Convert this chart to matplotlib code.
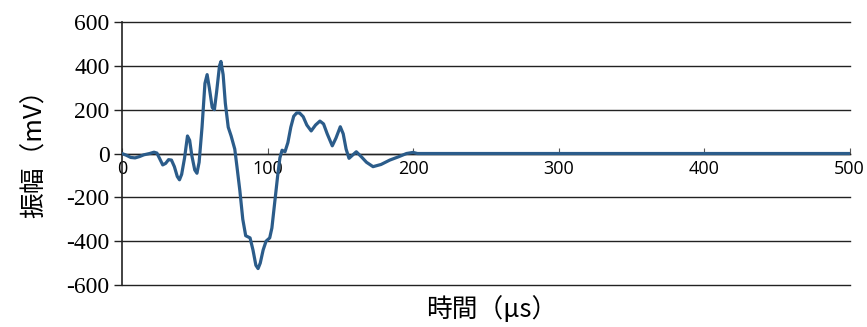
import matplotlib
matplotlib.use("Agg")
import matplotlib.pyplot as plt

# waveform samples: time (us) and amplitude (mV)
time_us = [0, 3, 6, 9, 12, 15, 19, 22, 24, 26, 28, 30, 32, 34, 36, 38, 39.5, 41, 43,
           45, 46.5, 48, 50, 51.5, 53, 55, 57, 58.5, 60, 62, 63.5, 65, 67, 68, 69.5,
           71, 73, 75, 77.5, 79, 81, 83, 85, 88, 90, 92, 93.5, 95, 97, 99, 101.5,
           103, 105, 107, 108.5, 110, 112, 114, 116, 118, 120, 122, 124.5, 127, 130,
           133, 136, 138.5, 141, 144.5, 147, 150, 152, 154, 156, 158, 161, 164.5,
           168, 172.5, 178, 184, 190, 195.5, 200, 203, 500]
amp_mv = [0, -8, -18, -20, -14, -6, 0, 6, 2, -25, -52, -45, -28, -30, -60, -105, -120,
          -95, -20, 80, 60, -10, -75, -90, -40, 120, 320, 360, 300, 210, 200, 280, 400,
          420, 360, 230, 120, 80, 20, -60, -170, -300, -375, -385, -440, -510, -525,
          -500, -440, -400, -385, -340, -220, -100, -20, 15, 8, 50, 120, 170, 185, 185,
          168, 130, 103, 130, 148, 135, 90, 35, 70, 122, 90, 20, -22, -10, 8, -15, -40,
          -60, -50, -30, -15, 0, 5, 0, 0]

y_ticks = [-600, -400, -200, 0, 200, 400, 600]
x_ticks = [0, 100, 200, 300, 400, 500]

fig = plt.figure(figsize=(8.67, 3.27), dpi=100)
ax = fig.add_axes([0.1407, 0.1284, 0.8393, 0.8043])

ax.plot(time_us, amp_mv, color="#2b5c8a", linewidth=2.3,
        solid_joinstyle="round", solid_capstyle="round", zorder=3)

ax.set_xlim(0, 500)
ax.set_ylim(-600, 600)

# horizontal grid only, edge lines drawn in full
ax.set_yticks(y_ticks)
ax.yaxis.grid(True, color="#222222", linewidth=1.0)
for gl in ax.get_ygridlines():
    gl.set_clip_on(False)
ax.set_axisbelow(True)

for side in ["top", "right"]:
    ax.spines[side].set_visible(False)
ax.spines["left"].set_color("#222222")
ax.spines["left"].set_linewidth(1.2)
ax.spines["bottom"].set_position(("data", 0))
ax.spines["bottom"].set_color("#222222")
ax.spines["bottom"].set_linewidth(1.0)

ax.set_yticklabels([str(v) for v in y_ticks], family="Liberation Serif", fontsize=17)
ax.tick_params(axis="y", direction="out", length=6, width=1, color="#222222", pad=3)

ax.set_xticks(x_ticks)
ax.set_xticklabels([str(v) for v in x_ticks], family="Open Sans", fontsize=13)
ax.tick_params(axis="x", direction="in", length=4, width=0.8, color="#555555", pad=5)

cjk = ["Noto Sans CJK JP", "DejaVu Sans"]
fig.text(0.040, 0.55, "振幅（mV）", rotation=90, ha="center", va="center",
         family=cjk, fontsize=18.5)
fig.text(0.567, 0.055, "時間（μs）", ha="center", va="center",
         family=cjk, fontsize=18.5)

fig.savefig("out.png", dpi=100)
